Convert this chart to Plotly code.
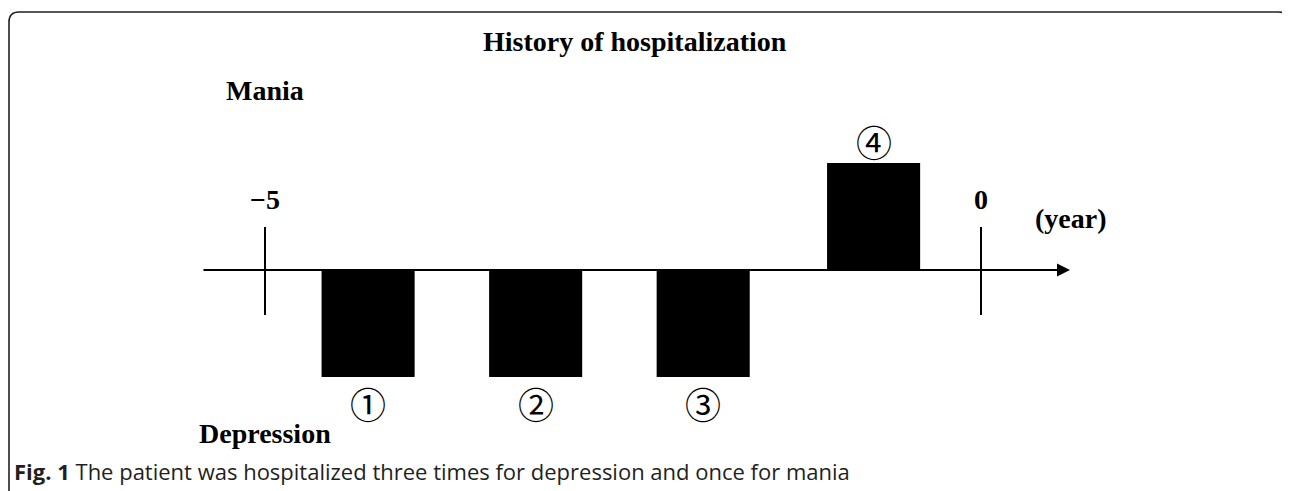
import plotly.graph_objects as go

# ---------------- data ----------------
episode_labels = ["①", "②", "③", "④"]
episode_types = ["Depression", "Depression", "Depression", "Mania"]
episode_years = [-4.28, -3.11, -1.94, -0.75]     # centre of each hospitalization (years before present)
episode_values = [-1, -1, -1, 1]                 # -1 = depression, +1 = mania
episode_duration = 0.65                          # bar width in years
tick_years = [-5, 0]
tick_labels = ["\u22125", "0"]
axis_unit = "(year)"
pole_labels = ["Mania", "Depression"]
title_text = "History of hospitalization"
caption_bold = "Fig. 1"
caption_text = "The patient was hospitalized three times for depression and once for mania"

# ---------------- layout calibration (pixels of the final page) ----------------
PAGE_W, PAGE_H = 1290, 491
OFF = 8                         # default page body margin
W, H = PAGE_W - OFF, PAGE_H - OFF
px_per_year = 143.2
x_at_minus5 = 265 - OFF
px_per_unit = 107
y_axis_px = 270 - OFF

x_lo = -5 - x_at_minus5 / px_per_year
x_hi = x_lo + W / px_per_year
y_hi = y_axis_px / px_per_unit
y_lo = -(H - y_axis_px) / px_per_unit


def px(x):
    """page pixel x -> paper fraction"""
    return (x - OFF) / W


def py(y):
    """page pixel y -> paper fraction"""
    return 1 - (y - OFF) / H


serif = "Liberation Serif, Times New Roman, serif"
circ_font = "Noto Sans CJK JP, DejaVu Sans, sans-serif"
SZ = 28

fig = go.Figure()
fig.add_trace(go.Bar(
    x=episode_years, y=episode_values, width=[episode_duration] * len(episode_years),
    marker=dict(color="black", line=dict(width=0)),
    hovertext=episode_types, showlegend=False,
))

shapes = []
annotations = []

# horizontal time axis with arrow
axis_start = -5 - 63 / px_per_year
axis_end = -5 + 805 / px_per_year
annotations.append(dict(
    x=axis_end, y=0, ax=axis_start, ay=0, xref="x", yref="y", axref="x", ayref="y",
    text="", showarrow=True, arrowhead=2, arrowwidth=2, arrowsize=1.3,
    arrowcolor="black", standoff=0, startstandoff=0,
))

# ticks and tick labels
for tv, tl in zip(tick_years, tick_labels):
    shapes.append(dict(type="line", xref="x", yref="y", x0=tv, x1=tv,
                       y0=43 / px_per_unit, y1=-45 / px_per_unit,
                       line=dict(color="black", width=2)))
    annotations.append(dict(x=tv, y=71 / px_per_unit, xref="x", yref="y", text=f"<b>{tl}</b>",
                            showarrow=False, xanchor="center", yanchor="middle",
                            font=dict(family=serif, size=SZ, color="black")))

annotations.append(dict(x=-5 + 806 / px_per_year, y=52 / px_per_unit, xref="x", yref="y",
                        text=f"<b>{axis_unit}</b>", showarrow=False,
                        xanchor="center", yanchor="middle",
                        font=dict(family=serif, size=SZ, color="black")))

# circled episode labels
for xv, yv, lab in zip(episode_years, episode_values, episode_labels):
    annotations.append(dict(x=xv, y=yv, xref="x", yref="y", text=lab, showarrow=False,
                            xanchor="center", yanchor="middle",
                            yshift=22 if yv > 0 else -26,
                            font=dict(family=circ_font, size=36, color="black")))

# pole labels
annotations.append(dict(x=-5, y=(270 - 90) / px_per_unit, xref="x", yref="y",
                        text=f"<b>{pole_labels[0]}</b>", showarrow=False,
                        xanchor="center", yanchor="middle",
                        font=dict(family=serif, size=SZ, color="black")))
annotations.append(dict(x=-5, y=(270 - 433) / px_per_unit, xref="x", yref="y",
                        text=f"<b>{pole_labels[1]}</b>", showarrow=False,
                        xanchor="center", yanchor="middle",
                        font=dict(family=serif, size=SZ, color="black")))

# title
annotations.append(dict(x=px(635), y=py(41), xref="paper", yref="paper",
                        xanchor="center", yanchor="middle",
                        text=f"<b>{title_text}</b>", showarrow=False,
                        font=dict(family=serif, size=SZ, color="black")))

# caption
annotations.append(dict(x=px(12), y=py(471), xref="paper", yref="paper",
                        xanchor="left", yanchor="middle",
                        text=f"<b>{caption_bold}</b> {caption_text}", showarrow=False,
                        font=dict(family="Open Sans, Noto Sans, sans-serif", size=22, color="#231f20")))

# frame with rounded top corners (open at bottom)
lx, rx, ty, r = 9, 1288.5, 12, 10
frame_path = (
    f"M {px(lx)},{py(PAGE_H + 5)} L {px(lx)},{py(ty + r)} "
    f"Q {px(lx)},{py(ty)} {px(lx + r)},{py(ty)} "
    f"L {px(rx - r)},{py(ty)} Q {px(rx)},{py(ty)} {px(rx)},{py(ty + r)} "
    f"L {px(rx)},{py(PAGE_H + 5)}"
)
shapes.append(dict(type="path", xref="paper", yref="paper", path=frame_path,
                   line=dict(color="#222222", width=1.6)))

fig.update_layout(
    width=W, height=H, autosize=False,
    margin=dict(l=0, r=0, t=0, b=0),
    paper_bgcolor="white", plot_bgcolor="white",
    xaxis=dict(range=[x_lo, x_hi], visible=False, fixedrange=True),
    yaxis=dict(range=[y_lo, y_hi], visible=False, fixedrange=True),
    shapes=shapes, annotations=annotations,
    showlegend=False,
)

fig.write_html("out.html")
